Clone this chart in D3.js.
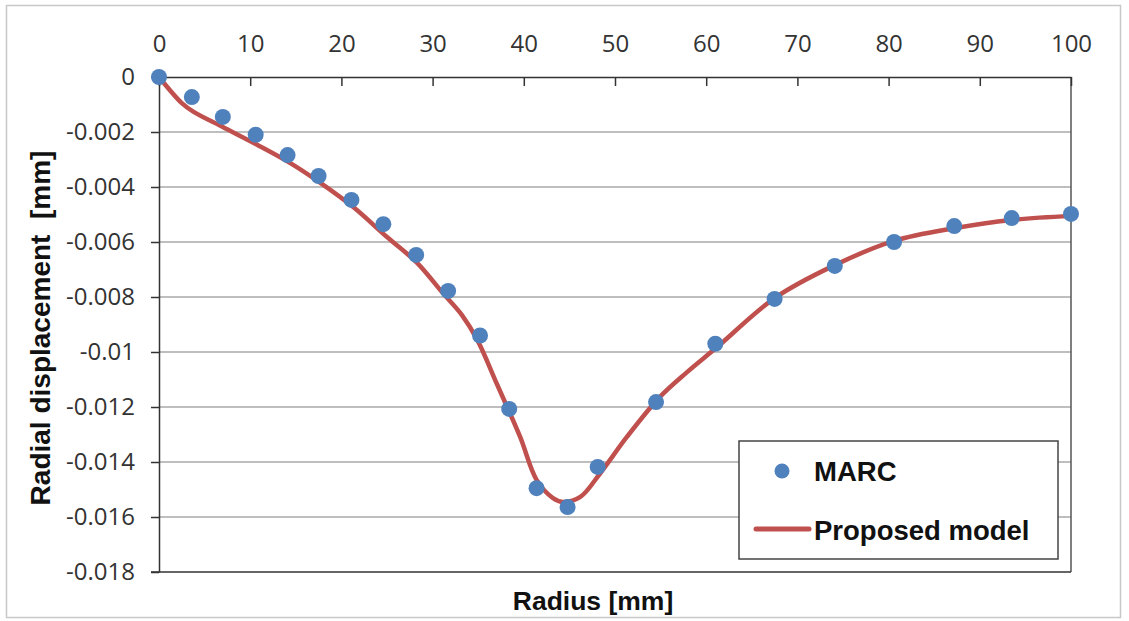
<!DOCTYPE html>
<html>
<head>
<meta charset="utf-8">
<script src="https://cdn.jsdelivr.net/npm/d3@7"></script>
<style>
  html, body { margin: 0; padding: 0; background: #fff; }
  svg { display: block; }
</style>
</head>
<body>
<svg id="chart" width="1129" height="621"></svg>
<script>
// ---- data ----
const xTicks = [0, 10, 20, 30, 40, 50, 60, 70, 80, 90, 100];
const yTicks = [0, -0.002, -0.004, -0.006, -0.008, -0.01, -0.012, -0.014, -0.016, -0.018];
const yTickLabels = ["0", "-0.002", "-0.004", "-0.006", "-0.008", "-0.01", "-0.012", "-0.014", "-0.016", "-0.018"];

const marcR = [0, 3.6, 7.0, 10.6, 14.1, 17.5, 21.1, 24.6, 28.2, 31.7, 35.2, 38.4, 41.4, 44.8, 48.1, 54.5, 61.0, 67.5, 74.1, 80.6, 87.2, 93.5, 100];
const marcV = [0, -0.00073, -0.00145, -0.0021, -0.00284, -0.0036, -0.00447, -0.00535, -0.00647, -0.00778, -0.0094, -0.01207, -0.01495, -0.01564, -0.01418, -0.01182, -0.0097, -0.00807, -0.00687, -0.006, -0.00542, -0.00513, -0.00498];

const modelR = [0, 2.5, 3.8, 7.0, 10.8, 14.4, 17.7, 21.3, 25.0, 28.3, 31.1, 33.2, 34.9, 37.1, 39.6, 41.4, 43.2, 44.3, 46.2, 48.4, 51.3, 54.9, 57.9, 61.2, 67.5, 74.1, 80.6, 87.2, 93.5, 100];
const modelV = [0, -0.00095, -0.00127, -0.00182, -0.00247, -0.00313, -0.00385, -0.00473, -0.00582, -0.00676, -0.00785, -0.00865, -0.00956, -0.0112, -0.01309, -0.01465, -0.01531, -0.01545, -0.01527, -0.0144, -0.01309, -0.01164, -0.01073, -0.00982, -0.00804, -0.00684, -0.00596, -0.0055, -0.0052, -0.00505];

const seriesNames = ["MARC", "Proposed model"];
const xTitle = "Radius [mm]";
const yTitle = "Radial displacement  [mm]";

// ---- layout ----
const svg = d3.select("#chart");
const L = 159, T = 77, W = 912, H = 495;
const tickFont = "'Open Sans', 'Noto Sans', sans-serif";
const boldFont = "'Liberation Sans', Arial, sans-serif";

// outer frame
svg.append("rect").attr("x", 6.5).attr("y", 5.5).attr("width", 1114).attr("height", 612)
  .attr("fill", "#fff").attr("stroke", "#c8c8c8").attr("stroke-width", 1.5);

const x = d3.scaleLinear().domain([0, 100]).range([L, L + W]);
const y = d3.scaleLinear().domain([0, -0.018]).range([T, T + H]);

// gridlines
svg.append("g").selectAll("line").data(yTicks.slice(1, -1)).join("line")
  .attr("x1", L).attr("x2", L + W)
  .attr("y1", d => y(d)).attr("y2", d => y(d))
  .attr("stroke", "#a8a8a8").attr("stroke-width", 1.5);

// right border
svg.append("line").attr("x1", L + W).attr("x2", L + W).attr("y1", T).attr("y2", T + H)
  .attr("stroke", "#555").attr("stroke-width", 1.5);
// bottom border
svg.append("line").attr("x1", L - 8).attr("x2", L + W).attr("y1", T + H).attr("y2", T + H)
  .attr("stroke", "#333").attr("stroke-width", 1.5);

// top axis
const gx = svg.append("g").attr("transform", `translate(0,${T})`)
  .call(d3.axisTop(x).tickValues(xTicks).tickSizeInner(-9).tickSizeOuter(0).tickPadding(25).tickFormat(d3.format("d")));
gx.select(".domain").attr("stroke", "#333").attr("stroke-width", 1.5);
gx.selectAll(".tick line").attr("stroke", "#333").attr("stroke-width", 1.5);
gx.selectAll(".tick text").attr("font-family", tickFont).attr("font-size", 24).attr("fill", "#333");

// left axis
const gy = svg.append("g").attr("transform", `translate(${L},0)`)
  .call(d3.axisLeft(y).tickValues(yTicks).tickSizeInner(8).tickSizeOuter(0).tickPadding(16)
    .tickFormat((d, i) => yTickLabels[i]));
gy.select(".domain").attr("stroke", "#333").attr("stroke-width", 1.5);
gy.selectAll(".tick line").attr("stroke", "#333").attr("stroke-width", 1.5);
gy.selectAll(".tick text").attr("font-family", tickFont).attr("font-size", 24).attr("fill", "#333");

// model curve
const modelData = modelR.map((r, i) => [r, modelV[i]]);
svg.append("path").datum(modelData)
  .attr("d", d3.line().x(d => x(d[0])).y(d => y(d[1])).curve(d3.curveCatmullRom.alpha(0.5)))
  .attr("fill", "none").attr("stroke", "#c0504d").attr("stroke-width", 4.5)
  .attr("stroke-linecap", "round").attr("stroke-linejoin", "round");

// MARC points
const marcData = marcR.map((r, i) => [r, marcV[i]]);
svg.append("g").selectAll("circle").data(marcData).join("circle")
  .attr("cx", d => x(d[0])).attr("cy", d => y(d[1])).attr("r", 8)
  .attr("fill", "#4f81bd");

// axis titles
svg.append("text").attr("x", 593).attr("y", 610).attr("text-anchor", "middle")
  .attr("font-family", boldFont).attr("font-weight", "bold").attr("font-size", 26.5).attr("fill", "#111")
  .text(xTitle);
svg.append("text").attr("transform", "translate(50,328) rotate(-90)").attr("text-anchor", "middle")
  .attr("font-family", boldFont).attr("font-weight", "bold").attr("font-size", 28).attr("fill", "#111")
  .attr("xml:space", "preserve").style("white-space", "pre")
  .text(yTitle);

// legend
const lg = svg.append("g");
lg.append("rect").attr("x", 739).attr("y", 441).attr("width", 319).attr("height", 118)
  .attr("fill", "#fff").attr("stroke", "#444").attr("stroke-width", 1.5);
lg.append("circle").attr("cx", 782).attr("cy", 471).attr("r", 7.5).attr("fill", "#4f81bd");
lg.append("line").attr("x1", 756).attr("x2", 809).attr("y1", 529).attr("y2", 529)
  .attr("stroke", "#c0504d").attr("stroke-width", 5).attr("stroke-linecap", "round");
lg.append("text").attr("x", 814).attr("y", 481)
  .attr("font-family", boldFont).attr("font-weight", "bold").attr("font-size", 27.5).attr("fill", "#111")
  .text(seriesNames[0]);
lg.append("text").attr("x", 814).attr("y", 540)
  .attr("font-family", boldFont).attr("font-weight", "bold").attr("font-size", 27.5).attr("fill", "#111")
  .text(seriesNames[1]);
</script>
</body>
</html>
